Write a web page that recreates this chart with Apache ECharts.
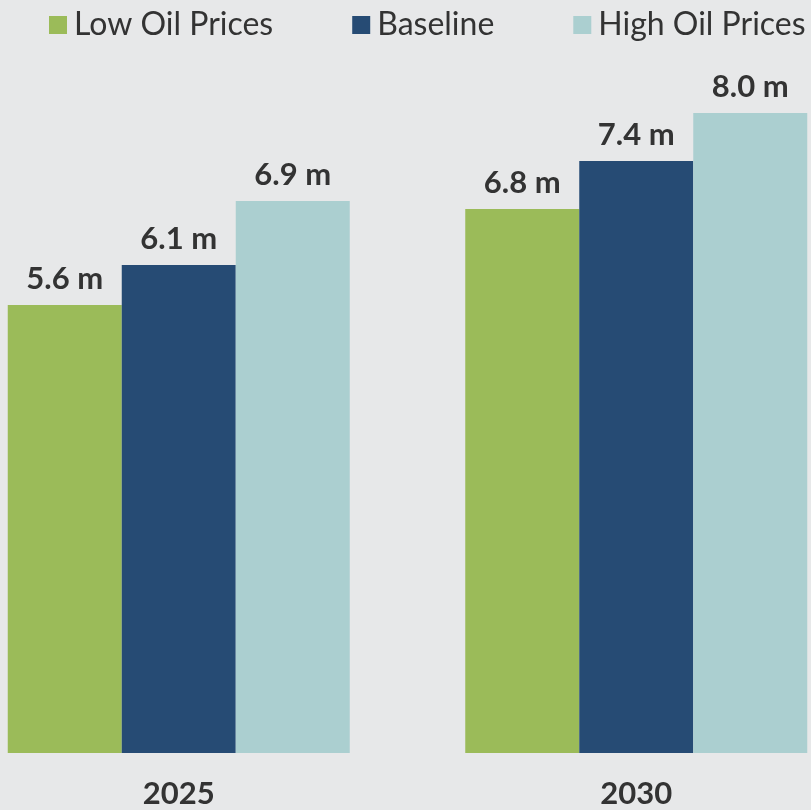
<!DOCTYPE html>
<html>
<head>
<meta charset="utf-8">
<script src="https://cdn.jsdelivr.net/npm/echarts@6/dist/echarts.min.js"></script>
<style>
html,body{margin:0;padding:0;background:#e7e8e9;width:811px;height:810px;overflow:hidden;position:relative;}
#c{position:absolute;left:-50px;top:0;width:915px;height:810px;}
</style>
</head>
<body>
<div id="c"></div>
<script>
var categories = ['2025', '2030'];
var seriesNames = ['Low Oil Prices', 'Baseline', 'High Oil Prices'];
var lowOil = [5.6, 6.8];
var baseline = [6.1, 7.4];
var highOil = [6.9, 8.0];
var colors = ['#9bbb59', '#264b74', '#abcfd0'];

var chart = echarts.init(document.getElementById('c'));
var values = [lowOil, baseline, highOil];
var series = seriesNames.map(function (n, i) {
  return {
    name: n,
    type: 'bar',
    data: values[i],
    barWidth: 114,
    barGap: '0%',
    itemStyle: { color: colors[i] },
    label: {
      show: true,
      position: 'top',
      distance: 11,
      formatter: function (p) { return p.value.toFixed(1) + ' m'; },
      fontFamily: 'Lato',
      fontWeight: 'bold',
      fontSize: 31,
      color: '#333333'
    }
  };
});

chart.setOption({
  backgroundColor: '#e7e8e9',
  animation: false,
  color: colors,
  legend: {
    data: seriesNames,
    left: 94,
    top: 4,
    itemWidth: 18,
    itemHeight: 18,
    itemGap: 79,
    icon: 'rect',
    textStyle: { fontFamily: 'Lato', fontSize: 32, color: '#333333', padding: [0, 0, 0, 2] }
  },
  grid: { left: 0, right: 0, top: 113, bottom: 57, containLabel: false },
  xAxis: {
    type: 'category',
    data: categories,
    axisLine: { show: false },
    axisTick: { show: false },
    axisLabel: { fontFamily: 'Lato', fontWeight: 'bold', fontSize: 31, color: '#333333', margin: 25 }
  },
  yAxis: {
    type: 'value',
    min: 0,
    max: 8,
    show: false,
    splitLine: { show: false }
  },
  series: series
});
</script>
</body>
</html>
